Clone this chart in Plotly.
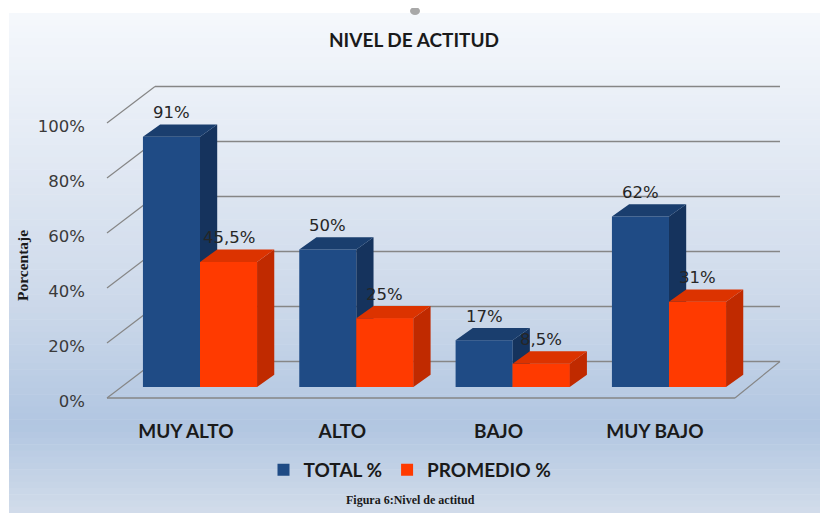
import plotly.graph_objects as go

# ---------------- data ----------------
categories = ["MUY ALTO", "ALTO", "BAJO", "MUY BAJO"]
total_pct = [91, 50, 17, 62]
promedio_pct = [45.5, 25, 8.5, 31]
series_names = ["TOTAL %", "PROMEDIO %"]
y_ticks = [0, 20, 40, 60, 80, 100]
y_tick_labels = ["0%", "20%", "40%", "60%", "80%", "100%"]
title_text = "NIVEL DE ACTITUD"
y_title = "Porcentaje"
caption = "Figura 6:Nivel de actitud"

# ---------------- geometry / style ----------------
OFF = 8                      # page body margin of the browser
WIN_W, WIN_H = 828, 513
W, H = WIN_W - OFF, WIN_H - OFF
# plot area in window pixels: x 105..800, y 30..418
ML, MT = 105 - OFF, 30 - OFF
MR, MB = WIN_W - 800, WIN_H - 418
PW, PH = W - ML - MR, H - MT - MB
X_RANGE = [-0.6077, 3.838]
Y_RANGE = [-11.27, 129.82]
BAR_W = 0.365
DX, DY = 0.11, 4.5          # depth of each bar
FRONT_X, BACK_X0, BACK_X1, FRONT_X1 = -0.595, -0.288, 3.71, 3.422
FRONT_DY, BACK_DY = -4.0, 9.3

BLUE = dict(front="#1f4b85", side="#15335d", top="#1a3e6e")
RED = dict(front="#ff3a00", side="#c02a00", top="#dc3300")
GRID = "#868686"
FONT = "Lato"
FONT_REG = "DejaVu Sans"


def px_x(p):
    """window pixel x -> paper x"""
    return (p - OFF - ML) / PW


def px_y(p):
    """window pixel y -> paper y"""
    return (H - MB - (p - OFF)) / PH


def hex2rgb(h):
    h = h.lstrip("#")
    return [int(h[i:i + 2], 16) for i in (0, 2, 4)]


grad_stops = [(13, "#f5f8fc"), (150, "#e3eaf4"), (300, "#cdd9ea"), (425, "#b1c6e1"), (513, "#d2dcea")]


def grad_color(p):
    for (p0, c0), (p1, c1) in zip(grad_stops[:-1], grad_stops[1:]):
        if p0 <= p <= p1:
            t = (p - p0) / (p1 - p0)
            a, b = hex2rgb(c0), hex2rgb(c1)
            return "rgb(%d,%d,%d)" % tuple(round(a[i] + (b[i] - a[i]) * t) for i in range(3))
    return grad_stops[-1][1]


shapes = []
N = 80
for k in range(N):
    p0 = 13 + k * 500 / N
    p1 = p0 + 500 / N
    shapes.append(dict(type="rect", xref="paper", yref="paper", layer="below",
                       x0=px_x(9), x1=px_x(WIN_W + 2), y0=px_y(p1 + 0.6), y1=px_y(p0),
                       fillcolor=grad_color((p0 + p1) / 2), line=dict(width=0)))
# small handle mark at the top
shapes.append(dict(type="circle", xref="paper", yref="paper", layer="below",
                   x0=px_x(410), x1=px_x(420), y0=px_y(15), y1=px_y(7),
                   fillcolor="#a8a8a8", line=dict(width=0)))

# walls: gridlines on back wall + diagonals + floor
for v in y_ticks:
    shapes.append(dict(type="line", xref="x", yref="y", layer="below",
                       x0=FRONT_X, y0=v + FRONT_DY, x1=BACK_X0, y1=v + BACK_DY,
                       line=dict(color=GRID, width=1.2)))
    shapes.append(dict(type="line", xref="x", yref="y", layer="below",
                       x0=BACK_X0, y0=v + BACK_DY, x1=BACK_X1, y1=v + BACK_DY,
                       line=dict(color=GRID, width=1.4)))
shapes.append(dict(type="line", xref="x", yref="y", layer="below",
                   x0=FRONT_X, y0=FRONT_DY, x1=FRONT_X1, y1=FRONT_DY,
                   line=dict(color=GRID, width=1.4)))
shapes.append(dict(type="line", xref="x", yref="y", layer="below",
                   x0=FRONT_X1, y0=FRONT_DY, x1=BACK_X1, y1=BACK_DY,
                   line=dict(color=GRID, width=1.2)))

idx = list(range(len(categories)))
fig = go.Figure()

fig.add_trace(go.Bar(x=idx, y=total_pct, offset=-BAR_W, width=BAR_W, name="<b>%s</b>" % series_names[0],
                     marker=dict(color=BLUE["front"], line=dict(width=0)), hoverinfo="skip"))
fig.add_trace(go.Bar(x=idx, y=promedio_pct, offset=0, width=BAR_W, name="<b>%s</b>" % series_names[1],
                     marker=dict(color=RED["front"], line=dict(width=0)), hoverinfo="skip"))


def poly_trace(xs, ys, color):
    return go.Scatter(x=xs, y=ys, mode="lines", fill="toself", fillcolor=color,
                      line=dict(width=0, color=color), showlegend=False, hoverinfo="skip")


def faces(values, off):
    fx, fy, sx, sy, tx, ty = [], [], [], [], [], []
    for i, v in zip(idx, values):
        xl, xr = i + off, i + off + BAR_W
        fx += [xl, xr, xr, xl, xl, None]
        fy += [0, 0, v, v, 0, None]
        sx += [xr, xr + DX, xr + DX, xr, xr, None]
        sy += [0, DY, v + DY, v, 0, None]
        tx += [xl, xl + DX, xr + DX, xr, xl, None]
        ty += [v, v + DY, v + DY, v, v, None]
    return (fx, fy), (sx, sy), (tx, ty)


bf, bs, bt = faces(total_pct, -BAR_W)
rf, rs, rt = faces(promedio_pct, 0)
fig.add_trace(poly_trace(*bs, BLUE["side"]))
fig.add_trace(poly_trace(*bt, BLUE["top"]))
fig.add_trace(poly_trace(*rf, RED["front"]))
fig.add_trace(poly_trace(*rs, RED["side"]))
fig.add_trace(poly_trace(*rt, RED["top"]))


def fmt(v):
    return ("%g" % v).replace(".", ",") + "%"


annotations = []
for i, v in zip(idx, total_pct):
    annotations.append(dict(x=i - BAR_W / 2, y=v, xref="x", yref="y", text=fmt(v), showarrow=False,
                            yshift=24, font=dict(family=FONT_REG, size=16.5, color="#262626")))
for i, v in zip(idx, promedio_pct):
    annotations.append(dict(x=i + BAR_W / 2, y=v, xref="x", yref="y", text=fmt(v), showarrow=False,
                            yshift=24, font=dict(family=FONT_REG, size=16.5, color="#262626")))
annotations.append(dict(x=px_x(22), y=px_y(266), xref="paper", yref="paper", text="<b>%s</b>" % y_title,
                        textangle=-90, showarrow=False, xanchor="center", yanchor="middle",
                        font=dict(family="Liberation Serif", size=15.5, color="#1a1a1a")))
annotations.append(dict(x=px_x(410), y=px_y(500), xref="paper", yref="paper", text="<b>%s</b>" % caption,
                        showarrow=False, xanchor="center", yanchor="middle",
                        font=dict(family="Liberation Serif", size=12, color="#1a1a1a")))

fig.update_layout(
    width=W, height=H,
    margin=dict(l=ML, r=MR, t=MT, b=MB, pad=0),
    paper_bgcolor="white", plot_bgcolor="rgba(0,0,0,0)",
    barmode="overlay",
    title=dict(text="<b>%s</b>" % title_text, x=(414 - OFF) / W, xanchor="center", xref="container",
               y=1 - (40 - OFF) / H, yanchor="middle", yref="container",
               font=dict(family=FONT, size=19, color="#1a1a1a")),
    xaxis=dict(range=X_RANGE, tickvals=[i - 0.09 for i in idx], ticktext=["<b>%s</b>" % c for c in categories],
               showgrid=False, zeroline=False, showline=False, ticks="",
               tickfont=dict(family=FONT, size=19, color="#1a1a1a")),
    yaxis=dict(range=Y_RANGE, tickvals=[v - 5.3 for v in y_ticks], ticktext=y_tick_labels,
               showgrid=False, zeroline=False, showline=False, ticks="", ticklabelstandoff=19,
               tickfont=dict(family=FONT_REG, size=16.5, color="#3a3a3a")),
    legend=dict(orientation="h", x=px_x(410), xanchor="center", y=px_y(470), yanchor="middle",
                font=dict(family=FONT, size=19, color="#1a1a1a"), bgcolor="rgba(0,0,0,0)",
                itemwidth=30, tracegroupgap=0),
    shapes=shapes,
    annotations=annotations,
    showlegend=True,
)

fig.write_html("out.html")
